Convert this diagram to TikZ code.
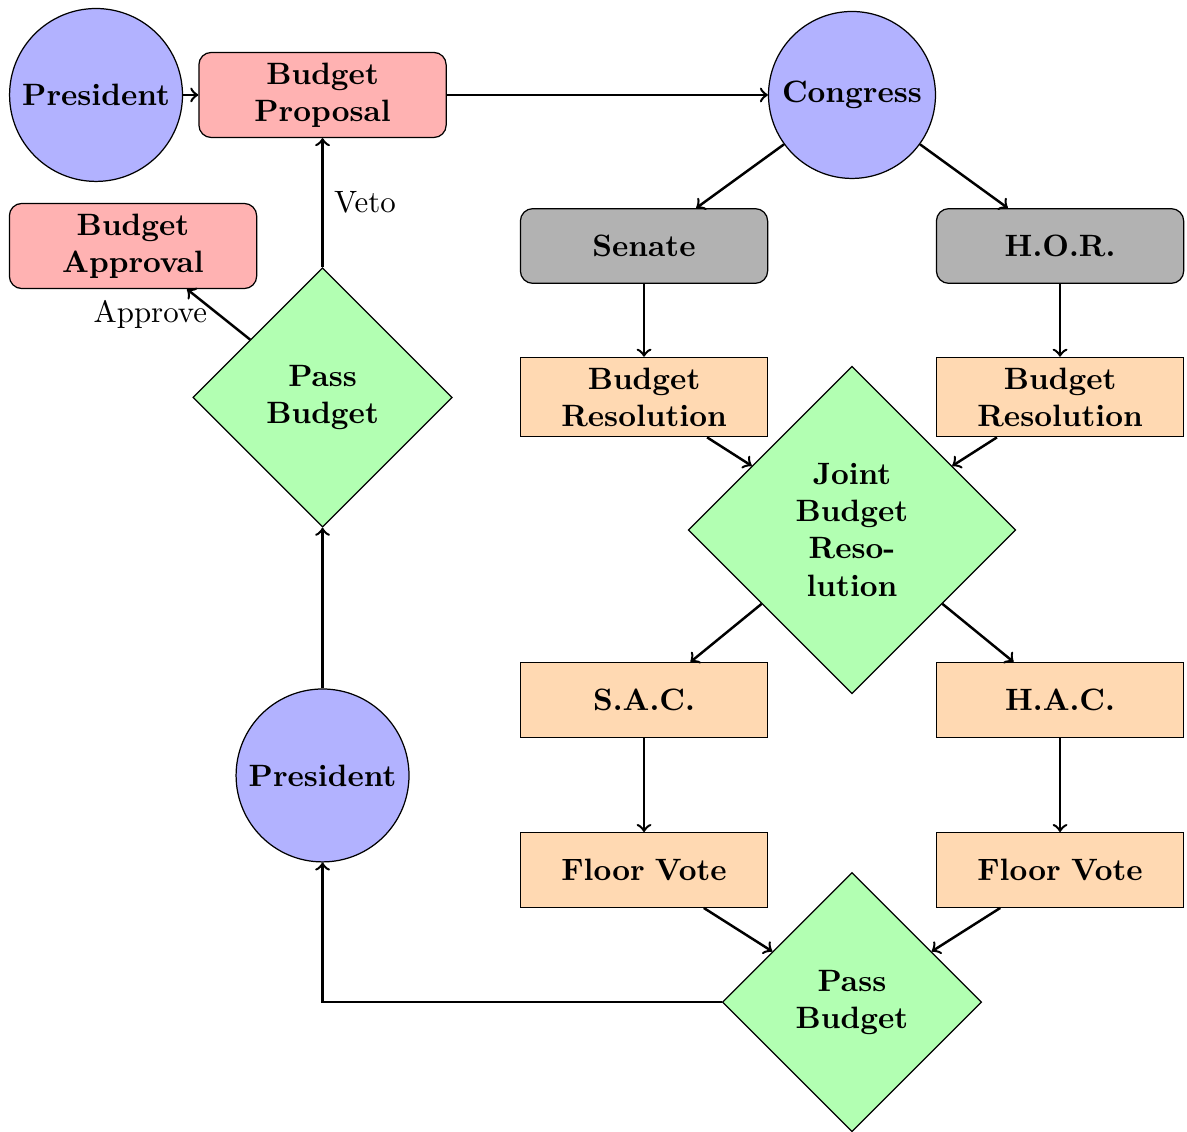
\documentclass[tikz,border=0pt]{standalone}
\usepackage{tikz}
\tikzstyle{person}=[circle, draw, fill=blue!30, font=\bfseries]
\tikzstyle{doc}=[rectangle, rounded corners, draw, fill=red!30, text width=2.58cm, align=center, minimum height=0.85cm, font=\bfseries]
\tikzstyle{house}=[rectangle, rounded corners, draw, fill=gray!60, text width=2.58cm, align=center, minimum height=0.85cm, font=\bfseries]
\tikzstyle{process}=[rectangle, draw, fill=orange!30, text width=2.58cm, align=center, minimum height=0.85cm, font=\bfseries]
\tikzstyle{decision}=[diamond, aspect=1, draw, fill=green!30, text width=1.75cm, align=center, inner sep=3.33pt, font=\bfseries]
\tikzstyle{arrow}=[thick,->]
\usetikzlibrary{shapes.geometric,arrows,positioning,calc}
\begin{document}
\begin{tikzpicture}[on grid,auto]
\useasboundingbox (0,0) rectangle (13.51,-12.873);
\node (pres) [person] at (1.093,-1.081) {President};
\node (prop) [right=2.578 of pres,doc] {Budget Proposal};
\node (cong) [right=6.026 of prop,person] {Congress};
\node (senate) [below left=1.719 and 2.367 of cong,house] {Senate};
\node (hor) [right=4.735 of senate,house] {H.O.R.};
\node (sres) [below=1.719 of senate,process] {Budget Resolution};
\node (hres) [below=1.719 of hor,process] {Budget Resolution};
\node (joint) [below=4.951 of cong,decision] {Joint\\Budget\\Reso-\\lution};
\node (sac) [below=3.448 of sres,process] {S.A.C.};
\node (hac) [below=3.448 of hres,process] {H.A.C.};
\node (sfloor) [below=1.935 of sac,process] {Floor Vote};
\node (hfloor) [below=1.935 of hac,process] {Floor Vote};
\node (cpass) [below=5.373 of joint,decision] {Pass\\Budget};
\node (ppass) [below=3.443 of prop,decision] {Pass\\Budget};
\node (pres2) [below=4.302 of ppass,person] {President};
\node (appr) [below right=1.719 and 0.421 of pres,doc] {Budget Approval};
\path[arrow]
	(pres) edge (prop)
	(prop) edge (cong)
	(cong) edge (senate)
	(cong) edge (hor)
	(senate) edge (sres)
	(hor) edge (hres)
	(sres) edge (joint)
	(hres) edge (joint)
	(joint) edge (sac)
	(joint) edge (hac)
	(sac) edge (sfloor)
	(hac) edge (hfloor)
	(sfloor) edge (cpass)
	(hfloor) edge (cpass)
	(pres2) edge (ppass)
	(ppass) edge node[right] {Veto} (prop)
	(ppass) edge node[left] {Approve} (appr);
\draw[arrow] (cpass.west) -| (pres2);
\end{tikzpicture}
\end{document}
